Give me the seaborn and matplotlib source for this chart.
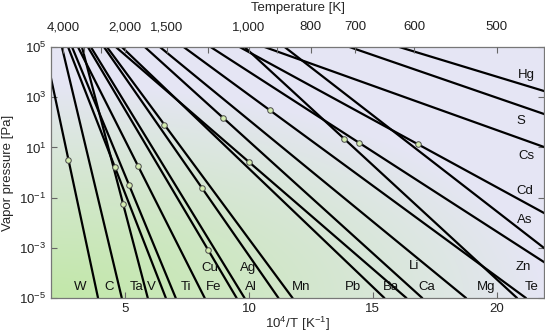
import numpy as np
import pandas as pd
import matplotlib
matplotlib.use("Agg")
import matplotlib.pyplot as plt
import seaborn as sns
from matplotlib.ticker import FixedLocator, NullLocator, LogFormatterSciNotation, NullFormatter

# elements and their vapour-pressure lines, given as 10^4/T at 1e5 Pa and at 1e-5 Pa
elements = ["W", "C", "Ta", "V", "Ti", "Fe", "Cu", "Al", "Ag", "Mn", "Pb",
            "Ba", "Ca", "Li", "Mg", "Te", "Zn", "Cd", "Cs", "As", "S", "Hg"]
invT_at_high = [1.73, 2.44, 3.25, 2.69, 2.85, 3.09, 3.49, 3.61, 4.14, 4.26, 4.86,
                4.62, 5.79, 6.40, 7.36, 9.82, 8.45, 9.62, 10.63, 11.44, 14.06, 16.07]
invT_at_low = [3.90, 4.86, 5.91, 6.64, 7.04, 8.21, 9.50, 9.82, 11.19, 11.76, 15.47,
               16.36, 17.00, 18.77, 21.19, 20.83, 24.17, 28.22, 38.97, 24.53, 43.51, 49.42]
p_high, p_low = 1e5, 1e-5

# melting points marked on the curves [K]
melt_el = ["W", "V", "Ta", "Ti", "Fe", "Mn", "Ag", "Cu", "Ca", "Ba", "Mg", "Te", "Zn", "Cd"]
melt_T = [3695, 2183, 2033, 1941, 1811, 1519, 1235, 1199, 1115, 1000, 923, 722.7, 692.7, 594]

# top axis temperatures
temp_major = [4000, 2000, 1500, 1000, 800, 700, 600, 500]
temp_minor = [3000, 2500, 1200, 900]

sns.set_style("ticks")
plt.rcParams["font.family"] = ["Liberation Sans", "DejaVu Sans"]

rows = []
for el, xh, xl in zip(elements, invT_at_high, invT_at_low):
    rows.append({"element": el, "invT": xh, "P": p_high})
    rows.append({"element": el, "invT": xl, "P": p_low})
lines = pd.DataFrame(rows)

# put the melting point markers on the lines
lut = dict(zip(elements, zip(invT_at_high, invT_at_low)))
mx, my = [], []
for el, T in zip(melt_el, melt_T):
    xh, xl = lut[el]
    x = 1e4 / T
    logp = np.log10(p_high) + (x - xh) / (xl - xh) * (np.log10(p_low) - np.log10(p_high))
    mx.append(x)
    my.append(10 ** logp)
marks = pd.DataFrame({"invT": mx, "P": my})

fig = plt.figure(figsize=(5.45, 3.35), dpi=100)
ax = fig.add_axes([0.0936, 0.1104, 0.9046, 0.7493])

# background gradient: green at bottom left, lavender elsewhere
u = np.linspace(0, 1, 300)[None, :]
v = np.linspace(1, 0, 200)[:, None]
w = np.clip(1 - np.sqrt((u / 1.0) ** 2 + (v / 0.85) ** 2), 0, 1) ** 0.9
green = np.array([0.76, 0.91, 0.66])
lav = np.array([0.90, 0.90, 0.96])
img = lav[None, None, :] * (1 - w[..., None]) + green[None, None, :] * w[..., None]
ax.imshow(img, extent=[0, 1, 0, 1], transform=ax.transAxes, aspect="auto", zorder=0)

sns.lineplot(data=lines, x="invT", y="P", units="element", estimator=None,
             color="black", lw=1.6, ax=ax, legend=False, zorder=2)
sns.scatterplot(data=marks, x="invT", y="P", ax=ax, s=16, color="#d4ecb0",
                edgecolor="#4a4a4a", linewidth=0.7, zorder=3)

ax.set_yscale("log")
ax.set_xlim(2, 21.92)
ax.set_ylim(1e-5, 1e5)
ax.yaxis.set_major_locator(FixedLocator([1e-5, 1e-3, 1e-1, 1e1, 1e3, 1e5]))
ax.yaxis.set_major_formatter(LogFormatterSciNotation())
ax.yaxis.set_minor_locator(NullLocator())
ax.xaxis.set_major_locator(FixedLocator([5, 10, 15, 20]))
ax.tick_params(direction="in", length=4, width=0.8, color="#666666",
               labelsize=9.5, labelcolor="#222222", right=True, top=False)
for s in ax.spines.values():
    s.set_color("#777777")
    s.set_linewidth(0.9)

ax.set_xlabel(r"$\mathregular{10^4/T\ [K^{-1}]}$", fontsize=9.5, labelpad=0)
ax.set_ylabel("Vapor pressure [Pa]", fontsize=9.5, labelpad=4)

top = ax.twiny()
top.set_xlim(ax.get_xlim())
top.xaxis.set_major_locator(FixedLocator([1e4 / t for t in temp_major]))
top.set_xticklabels([f"{t:,}" for t in temp_major])
top.xaxis.set_minor_locator(FixedLocator([1e4 / t for t in temp_minor]))
top.xaxis.set_minor_formatter(NullFormatter())
top.tick_params(which="both", direction="in", length=4, width=0.8, color="#666666",
                labelsize=9.5, labelcolor="#222222", pad=10)
top.set_xlabel("Temperature [K]", fontsize=9.5, labelpad=7)
for s in top.spines.values():
    s.set_visible(False)

# element labels (placed in axes pixels of the picture)
label_pos = {
    "W": (80, 287), "C": (109, 287), "Ta": (137, 287), "V": (152, 287), "Ti": (186, 287),
    "Fe": (214, 287), "Al": (251, 287), "Mn": (302, 287), "Pb": (354, 287),
    "Ba": (392, 287), "Ca": (428, 287), "Mg": (487, 287), "Te": (533, 287),
    "Cu": (210, 268), "Ag": (248, 268), "Li": (415, 266), "Zn": (524, 267),
    "Hg": (527, 75), "S": (522, 121), "Cs": (527, 156), "Cd": (526, 191), "As": (526, 220),
}
for name, (px, py) in label_pos.items():
    xd = 2 + (px - 51) / 24.8
    yd = 10 ** (5 - (py - 47) / 25.1)
    ax.text(xd, yd, name, fontsize=9.5, color="#111111", ha="center", va="center", zorder=4)

fig.savefig("out.png", dpi=100)
